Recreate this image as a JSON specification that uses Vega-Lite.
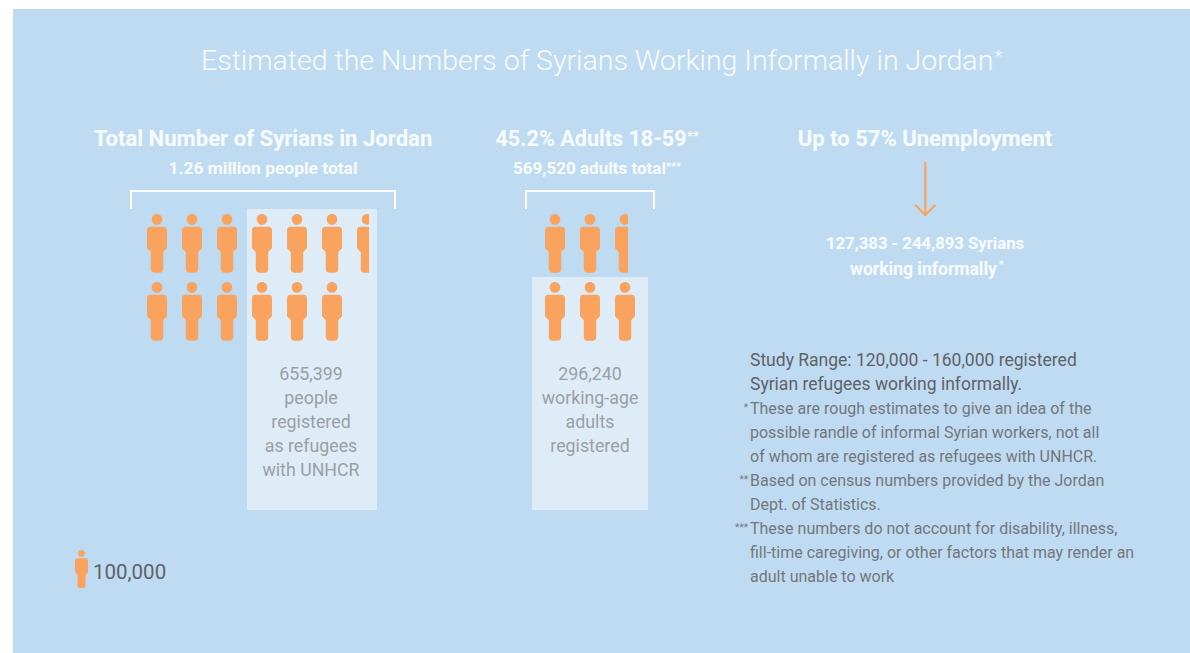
{
  "$schema": "https://vega.github.io/schema/vega-lite/v6.json",
  "width": 1190,
  "height": 653,
  "padding": 0,
  "autosize": {"type": "none"},
  "background": "#ffffff",
  "view": {"stroke": null},
  "datasets": {
    "captions": [
      {"t": "Estimated the Numbers of Syrians Working Informally in Jordan", "x": 201, "y": 70, "size": 28.5, "c": "white", "a": "left", "w": "light"},
      {"t": "*", "x": 995, "y": 62, "size": 17, "c": "white", "a": "left", "w": "light"},
      {"t": "Total Number of Syrians in Jordan", "x": 263, "y": 146, "size": 22.1, "c": "white", "a": "center", "w": "bold"},
      {"t": "1.26 million people total", "x": 263, "y": 174, "size": 17.4, "c": "white", "a": "center", "w": "bold"},
      {"t": "45.2% Adults 18-59", "x": 591, "y": 146, "size": 21.6, "c": "white", "a": "center", "w": "bold"},
      {"t": "**", "x": 687, "y": 140, "size": 13, "c": "white", "a": "left", "w": "bold"},
      {"t": "569,520 adults total", "x": 589.5, "y": 174, "size": 17, "c": "white", "a": "center", "w": "bold"},
      {"t": "***", "x": 666, "y": 170, "size": 11, "c": "white", "a": "left", "w": "bold"},
      {"t": "Up to 57% Unemployment", "x": 925, "y": 146, "size": 22, "c": "white", "a": "center", "w": "bold"},
      {"t": "127,383 - 244,893 Syrians", "x": 925, "y": 249, "size": 16.7, "c": "white", "a": "center", "w": "bold"},
      {"t": "working informally", "x": 923.5, "y": 275, "size": 17.5, "c": "white", "a": "center", "w": "bold"},
      {"t": "*", "x": 999, "y": 268, "size": 10, "c": "white", "a": "left", "w": "bold"},
      {"t": "655,399", "x": 311, "y": 380, "size": 17.8, "c": "muted", "a": "center", "w": "regular"},
      {"t": "people", "x": 311, "y": 404, "size": 17.8, "c": "muted", "a": "center", "w": "regular"},
      {"t": "registered", "x": 311, "y": 428, "size": 17.8, "c": "muted", "a": "center", "w": "regular"},
      {"t": "as refugees", "x": 311, "y": 452, "size": 17.8, "c": "muted", "a": "center", "w": "regular"},
      {"t": "with UNHCR", "x": 311, "y": 476, "size": 17.8, "c": "muted", "a": "center", "w": "regular"},
      {"t": "296,240", "x": 590, "y": 380, "size": 17.8, "c": "muted", "a": "center", "w": "regular"},
      {"t": "working-age", "x": 590, "y": 404, "size": 17.8, "c": "muted", "a": "center", "w": "regular"},
      {"t": "adults", "x": 590, "y": 428, "size": 17.8, "c": "muted", "a": "center", "w": "regular"},
      {"t": "registered", "x": 590, "y": 452, "size": 17.8, "c": "muted", "a": "center", "w": "regular"},
      {"t": "100,000", "x": 93, "y": 579, "size": 20.5, "c": "dark", "a": "left", "w": "regular"},
      {"t": "Study Range: 120,000 - 160,000 registered", "x": 750, "y": 366, "size": 17.5, "c": "dark", "a": "left", "w": "regular"},
      {"t": "Syrian refugees working informally.", "x": 750, "y": 390, "size": 17.5, "c": "dark", "a": "left", "w": "regular"},
      {"t": "These are rough estimates to give an idea of the", "x": 750, "y": 414, "size": 16, "c": "note", "a": "left", "w": "regular"},
      {"t": "possible randle of informal Syrian workers, not all", "x": 750, "y": 438, "size": 16, "c": "note", "a": "left", "w": "regular"},
      {"t": "of whom are registered as refugees with UNHCR.", "x": 750, "y": 462, "size": 16, "c": "note", "a": "left", "w": "regular"},
      {"t": "Based on census numbers provided by the Jordan", "x": 750, "y": 486, "size": 16, "c": "note", "a": "left", "w": "regular"},
      {"t": "Dept. of Statistics.", "x": 750, "y": 510, "size": 16, "c": "note", "a": "left", "w": "regular"},
      {"t": "These numbers do not account for disability, illness,", "x": 750, "y": 534, "size": 16, "c": "note", "a": "left", "w": "regular"},
      {"t": "fill-time caregiving, or other factors that may render an", "x": 750, "y": 558, "size": 16, "c": "note", "a": "left", "w": "regular"},
      {"t": "adult unable to work", "x": 750, "y": 582, "size": 16, "c": "note", "a": "left", "w": "regular"},
      {"t": "*", "x": 748, "y": 411, "size": 10, "c": "note", "a": "right", "w": "regular"},
      {"t": "**", "x": 748, "y": 483, "size": 10, "c": "note", "a": "right", "w": "regular"},
      {"t": "***", "x": 748, "y": 531, "size": 10, "c": "note", "a": "right", "w": "regular"}
    ]
  },
  "layer": [
    {
      "data": {"values": [
        {"name": "panel", "x": 13, "x2": 1190, "y": 9, "y2": 653, "fill": "panel"},
        {"name": "registered people", "x": 247, "x2": 377, "y": 209, "y2": 510, "fill": "registered"},
        {"name": "registered adults", "x": 532, "x2": 648, "y": 277, "y2": 510, "fill": "registered"}
      ]},
      "mark": {"type": "rect"},
      "encoding": {
        "x": {"field": "x", "type": "quantitative", "scale": {"domain": [0, 1190], "range": [0, 1190]}, "axis": null},
        "x2": {"field": "x2"},
        "y": {"field": "y", "type": "quantitative", "scale": {"domain": [0, 653], "range": [0, 653]}, "axis": null},
        "y2": {"field": "y2"},
        "color": {"field": "fill", "type": "nominal", "legend": null, "scale": {"domain": ["panel", "registered"], "range": ["#bfdbf2", "#deecf8"]}}
      }
    },
    {
      "data": {"values": [
        {"stroke": "bracket 1", "order": 1, "x": 131, "y": 209},
        {"stroke": "bracket 1", "order": 2, "x": 131, "y": 191},
        {"stroke": "bracket 1", "order": 3, "x": 395, "y": 191},
        {"stroke": "bracket 1", "order": 4, "x": 395, "y": 209},
        {"stroke": "bracket 2", "order": 1, "x": 526, "y": 209},
        {"stroke": "bracket 2", "order": 2, "x": 526, "y": 191},
        {"stroke": "bracket 2", "order": 3, "x": 654, "y": 191},
        {"stroke": "bracket 2", "order": 4, "x": 654, "y": 209}
      ]},
      "mark": {"type": "line", "color": "#ffffff", "strokeWidth": 2, "strokeCap": "butt"},
      "encoding": {
        "x": {"field": "x", "type": "quantitative", "scale": {"domain": [0, 1190], "range": [0, 1190]}, "axis": null},
        "y": {"field": "y", "type": "quantitative", "scale": {"domain": [0, 653], "range": [0, 653]}, "axis": null},
        "detail": {"field": "stroke"},
        "order": {"field": "order"}
      }
    },
    {
      "data": {"values": [
        {"stroke": "shaft", "order": 1, "x": 925.3, "y": 162},
        {"stroke": "shaft", "order": 2, "x": 925.3, "y": 215},
        {"stroke": "head", "order": 1, "x": 915.3, "y": 205},
        {"stroke": "head", "order": 2, "x": 925.3, "y": 215},
        {"stroke": "head", "order": 3, "x": 935.3, "y": 205}
      ]},
      "mark": {"type": "line", "color": "#f9a35f", "strokeWidth": 2.2, "strokeCap": "butt"},
      "encoding": {
        "x": {"field": "x", "type": "quantitative", "scale": {"domain": [0, 1190], "range": [0, 1190]}, "axis": null},
        "y": {"field": "y", "type": "quantitative", "scale": {"domain": [0, 653], "range": [0, 653]}, "axis": null},
        "detail": {"field": "stroke"},
        "order": {"field": "order"}
      }
    },
    {
      "data": {"values": [
        {"group": "all", "row": 0, "col": 0, "icon": "whole"},
        {"group": "all", "row": 0, "col": 1, "icon": "whole"},
        {"group": "all", "row": 0, "col": 2, "icon": "whole"},
        {"group": "all", "row": 0, "col": 3, "icon": "whole"},
        {"group": "all", "row": 0, "col": 4, "icon": "whole"},
        {"group": "all", "row": 0, "col": 5, "icon": "whole"},
        {"group": "all", "row": 0, "col": 6, "icon": "part60"},
        {"group": "all", "row": 1, "col": 0, "icon": "whole"},
        {"group": "all", "row": 1, "col": 1, "icon": "whole"},
        {"group": "all", "row": 1, "col": 2, "icon": "whole"},
        {"group": "all", "row": 1, "col": 3, "icon": "whole"},
        {"group": "all", "row": 1, "col": 4, "icon": "whole"},
        {"group": "all", "row": 1, "col": 5, "icon": "whole"}
      ]},
      "mark": {"type": "point", "filled": true, "opacity": 1, "color": "#f9a35f", "size": 3600},
      "encoding": {
        "x": {"field": "col", "type": "quantitative", "scale": {"domain": [0, 6], "range": [157, 367]}, "axis": null},
        "y": {"field": "row", "type": "quantitative", "scale": {"domain": [0, 1], "range": [243.4, 311.4]}, "axis": null},
        "shape": {"field": "icon", "type": "nominal", "legend": null, "scale": {"domain": ["whole", "part60"], "range": [
          "M -0.177 -0.8 A 0.177 0.177 0 1 1 0.177 -0.8 A 0.177 0.177 0 1 1 -0.177 -0.8 Z M -0.216 -0.555 L 0.216 -0.555 Q 0.333 -0.555 0.333 -0.438 L 0.333 0.165 L 0.207 0.283 L 0.207 0.845 Q 0.207 0.978 0.074 0.978 L -0.074 0.978 Q -0.207 0.978 -0.207 0.845 L -0.207 0.283 L -0.333 0.165 L -0.333 -0.438 Q -0.333 -0.555 -0.216 -0.555 Z",
          "M 0.067 -0.964 A 0.177 0.177 0 1 0 0.067 -0.636 Z M 0.067 -0.555 L -0.216 -0.555 Q -0.333 -0.555 -0.333 -0.438 L -0.333 0.165 L -0.207 0.283 L -0.207 0.845 Q -0.207 0.978 -0.074 0.978 L 0.067 0.978 Z"
        ]}}
      }
    },
    {
      "data": {"values": [
        {"group": "adults", "row": 0, "col": 0, "icon": "whole"},
        {"group": "adults", "row": 0, "col": 1, "icon": "whole"},
        {"group": "adults", "row": 0, "col": 2, "icon": "part65"},
        {"group": "adults", "row": 1, "col": 0, "icon": "whole"},
        {"group": "adults", "row": 1, "col": 1, "icon": "whole"},
        {"group": "adults", "row": 1, "col": 2, "icon": "whole"}
      ]},
      "mark": {"type": "point", "filled": true, "opacity": 1, "color": "#f9a35f", "size": 3600},
      "encoding": {
        "x": {"field": "col", "type": "quantitative", "scale": {"domain": [0, 2], "range": [555, 625]}, "axis": null},
        "y": {"field": "row", "type": "quantitative", "scale": {"domain": [0, 1], "range": [243.4, 311.4]}, "axis": null},
        "shape": {"field": "icon", "type": "nominal", "legend": null, "scale": {"domain": ["whole", "part65"], "range": [
          "M -0.177 -0.8 A 0.177 0.177 0 1 1 0.177 -0.8 A 0.177 0.177 0 1 1 -0.177 -0.8 Z M -0.216 -0.555 L 0.216 -0.555 Q 0.333 -0.555 0.333 -0.438 L 0.333 0.165 L 0.207 0.283 L 0.207 0.845 Q 0.207 0.978 0.074 0.978 L -0.074 0.978 Q -0.207 0.978 -0.207 0.845 L -0.207 0.283 L -0.333 0.165 L -0.333 -0.438 Q -0.333 -0.555 -0.216 -0.555 Z",
          "M 0.1 -0.946 A 0.177 0.177 0 1 0 0.1 -0.654 Z M 0.1 -0.555 L -0.216 -0.555 Q -0.333 -0.555 -0.333 -0.438 L -0.333 0.165 L -0.207 0.283 L -0.207 0.845 Q -0.207 0.978 -0.074 0.978 L 0.1 0.978 Z"
        ]}}
      }
    },
    {
      "data": {"values": [{"people": 100000, "x": 81.5, "y": 569}]},
      "mark": {"type": "point", "filled": true, "opacity": 1, "color": "#f9a35f", "size": 1521, "shape": "M -0.177 -0.8 A 0.177 0.177 0 1 1 0.177 -0.8 A 0.177 0.177 0 1 1 -0.177 -0.8 Z M -0.216 -0.555 L 0.216 -0.555 Q 0.333 -0.555 0.333 -0.438 L 0.333 0.165 L 0.207 0.283 L 0.207 0.845 Q 0.207 0.978 0.074 0.978 L -0.074 0.978 Q -0.207 0.978 -0.207 0.845 L -0.207 0.283 L -0.333 0.165 L -0.333 -0.438 Q -0.333 -0.555 -0.216 -0.555 Z"},
      "encoding": {
        "x": {"field": "x", "type": "quantitative", "scale": {"domain": [0, 1190], "range": [0, 1190]}, "axis": null},
        "y": {"field": "y", "type": "quantitative", "scale": {"domain": [0, 653], "range": [0, 653]}, "axis": null}
      }
    },
    {
      "data": {"name": "captions"},
      "transform": [{"filter": "datum.a === 'left' && datum.w === 'light'"}],
      "mark": {"type": "text", "align": "left", "baseline": "alphabetic", "font": "Roboto", "fontWeight": 300},
      "encoding": {
        "x": {"field": "x", "type": "quantitative", "scale": {"domain": [0, 1190], "range": [0, 1190]}, "axis": null},
        "y": {"field": "y", "type": "quantitative", "scale": {"domain": [0, 653], "range": [0, 653]}, "axis": null},
        "text": {"field": "t"},
        "size": {"field": "size", "type": "quantitative", "legend": null, "scale": null},
        "color": {"field": "c", "type": "nominal", "legend": null, "scale": {"domain": ["white", "muted", "dark", "note"], "range": ["#f8fbfe", "#9a9fa3", "#5d6268", "#72777c"]}}
      }
    },
    {
      "data": {"name": "captions"},
      "transform": [{"filter": "datum.a === 'left' && datum.w === 'regular'"}],
      "mark": {"type": "text", "align": "left", "baseline": "alphabetic", "font": "Roboto", "fontWeight": 400},
      "encoding": {
        "x": {"field": "x", "type": "quantitative", "scale": {"domain": [0, 1190], "range": [0, 1190]}, "axis": null},
        "y": {"field": "y", "type": "quantitative", "scale": {"domain": [0, 653], "range": [0, 653]}, "axis": null},
        "text": {"field": "t"},
        "size": {"field": "size", "type": "quantitative", "legend": null, "scale": null},
        "color": {"field": "c", "type": "nominal", "legend": null, "scale": {"domain": ["white", "muted", "dark", "note"], "range": ["#f8fbfe", "#9a9fa3", "#5d6268", "#72777c"]}}
      }
    },
    {
      "data": {"name": "captions"},
      "transform": [{"filter": "datum.a === 'left' && datum.w === 'bold'"}],
      "mark": {"type": "text", "align": "left", "baseline": "alphabetic", "font": "Roboto", "fontWeight": 700},
      "encoding": {
        "x": {"field": "x", "type": "quantitative", "scale": {"domain": [0, 1190], "range": [0, 1190]}, "axis": null},
        "y": {"field": "y", "type": "quantitative", "scale": {"domain": [0, 653], "range": [0, 653]}, "axis": null},
        "text": {"field": "t"},
        "size": {"field": "size", "type": "quantitative", "legend": null, "scale": null},
        "color": {"field": "c", "type": "nominal", "legend": null, "scale": {"domain": ["white", "muted", "dark", "note"], "range": ["#f8fbfe", "#9a9fa3", "#5d6268", "#72777c"]}}
      }
    },
    {
      "data": {"name": "captions"},
      "transform": [{"filter": "datum.a === 'center' && datum.w === 'regular'"}],
      "mark": {"type": "text", "align": "center", "baseline": "alphabetic", "font": "Roboto", "fontWeight": 400},
      "encoding": {
        "x": {"field": "x", "type": "quantitative", "scale": {"domain": [0, 1190], "range": [0, 1190]}, "axis": null},
        "y": {"field": "y", "type": "quantitative", "scale": {"domain": [0, 653], "range": [0, 653]}, "axis": null},
        "text": {"field": "t"},
        "size": {"field": "size", "type": "quantitative", "legend": null, "scale": null},
        "color": {"field": "c", "type": "nominal", "legend": null, "scale": {"domain": ["white", "muted", "dark", "note"], "range": ["#f8fbfe", "#9a9fa3", "#5d6268", "#72777c"]}}
      }
    },
    {
      "data": {"name": "captions"},
      "transform": [{"filter": "datum.a === 'center' && datum.w === 'bold'"}],
      "mark": {"type": "text", "align": "center", "baseline": "alphabetic", "font": "Roboto", "fontWeight": 700},
      "encoding": {
        "x": {"field": "x", "type": "quantitative", "scale": {"domain": [0, 1190], "range": [0, 1190]}, "axis": null},
        "y": {"field": "y", "type": "quantitative", "scale": {"domain": [0, 653], "range": [0, 653]}, "axis": null},
        "text": {"field": "t"},
        "size": {"field": "size", "type": "quantitative", "legend": null, "scale": null},
        "color": {"field": "c", "type": "nominal", "legend": null, "scale": {"domain": ["white", "muted", "dark", "note"], "range": ["#f8fbfe", "#9a9fa3", "#5d6268", "#72777c"]}}
      }
    },
    {
      "data": {"name": "captions"},
      "transform": [{"filter": "datum.a === 'right'"}],
      "mark": {"type": "text", "align": "right", "baseline": "alphabetic", "font": "Roboto", "fontWeight": 400},
      "encoding": {
        "x": {"field": "x", "type": "quantitative", "scale": {"domain": [0, 1190], "range": [0, 1190]}, "axis": null},
        "y": {"field": "y", "type": "quantitative", "scale": {"domain": [0, 653], "range": [0, 653]}, "axis": null},
        "text": {"field": "t"},
        "size": {"field": "size", "type": "quantitative", "legend": null, "scale": null},
        "color": {"field": "c", "type": "nominal", "legend": null, "scale": {"domain": ["white", "muted", "dark", "note"], "range": ["#f8fbfe", "#9a9fa3", "#5d6268", "#72777c"]}}
      }
    }
  ],
  "resolve": {"scale": {"x": "independent", "y": "independent", "color": "independent", "shape": "independent", "size": "independent"}}
}
